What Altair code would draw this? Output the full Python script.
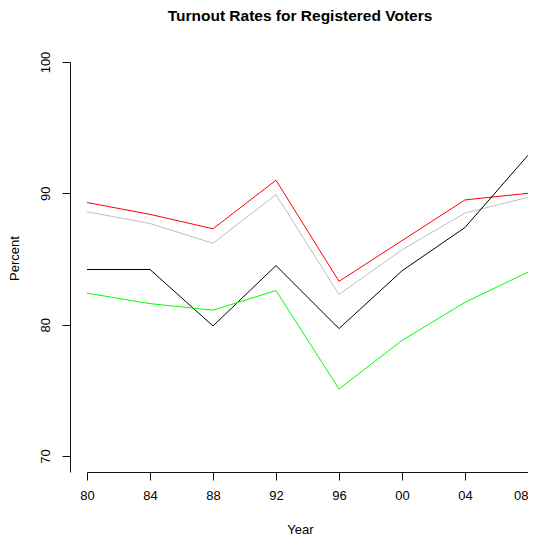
import altair as alt
import pandas as pd

years = [1980, 1984, 1988, 1992, 1996, 2000, 2004, 2008]
series_names = ["White", "Total", "Black", "Hispanic"]
white = [89.3, 88.4, 87.3, 91.0, 83.3, 86.4, 89.5, 90.0]
total = [88.6, 87.7, 86.2, 89.9, 82.3, 85.7, 88.5, 89.7]
black = [84.2, 84.2, 79.9, 84.5, 79.7, 84.1, 87.4, 92.9]
hispanic = [82.4, 81.6, 81.1, 82.6, 75.1, 78.8, 81.7, 84.0]
colors = ["#FF0000", "#BEBEBE", "#000000", "#00FF00"]
y_ticks = [70, 80, 90, 100]

rows = []
for name, vals in zip(series_names, [white, total, black, hispanic]):
    for yr, v in zip(years, vals):
        rows.append({"Year": yr, "Percent": v, "Group": name})
df = pd.DataFrame(rows)

FONT = "Liberation Sans"

chart = alt.Chart(df).mark_line(strokeWidth=1).encode(
    x=alt.X("Year:Q",
            scale=alt.Scale(domain=[1980, 2008], nice=False, zero=False),
            axis=alt.Axis(values=years, labelExpr="substring(toString(datum.value), 2, 4)",
                          grid=False, domain=True, ticks=True,
                          tickSize=8, tickColor="#111111", tickWidth=1,
                          domainColor="#111111", domainWidth=1,
                          labelFont=FONT, labelFontSize=13, labelColor="black",
                          labelPadding=9, labelBaseline="top", labelFlush=False,
                          labelOverlap=False,
                          labelAlign={"condition": {"test": "datum.value == 2008", "value": "right"},
                                      "value": "center"},
                          title="Year", titleFont=FONT, titleFontSize=13,
                          titleFontWeight="normal", titleColor="black",
                          titleX=213, titleY=61.5, titleBaseline="alphabetic",
                          titleAlign="center")),
    y=alt.Y("Percent:Q",
            scale=alt.Scale(domain=[68.78, 100], nice=False, zero=False),
            axis=alt.Axis(values=y_ticks, grid=False, domain=True, ticks=True,
                          tickSize=8, tickColor="#111111", tickWidth=1,
                          domainColor="#111111", domainWidth=1, offset=17,
                          labelFont=FONT, labelFontSize=13, labelColor="black",
                          labelAngle=270, labelAlign="center", labelBaseline="alphabetic",
                          labelPadding=13, labelFlush=False, labelOverlap=False,
                          title="Percent", titleFont=FONT, titleFontSize=13,
                          titleFontWeight="normal", titleColor="black",
                          titleAngle=270, titleX=-52, titleY=196,
                          titleBaseline="alphabetic", titleAlign="center")),
    color=alt.Color("Group:N", scale=alt.Scale(domain=series_names, range=colors), legend=None),
    order=alt.Order("Year:Q"),
).properties(
    width=441,
    height=410,
    autosize=alt.AutoSizeParams(type="none"),
    padding={"left": 79, "top": 54, "right": 0, "bottom": 64},
    background="white",
    title=alt.TitleParams("Turnout Rates for Registered Voters", font=FONT, fontSize=15.5,
                          fontWeight="bold", color="black", anchor="middle", frame="group",
                          dx=-7.5, baseline="alphabetic", offset=14.5),
).configure_view(stroke=None)

chart.save("out.html", embed_options={"renderer": "svg", "actions": False})
